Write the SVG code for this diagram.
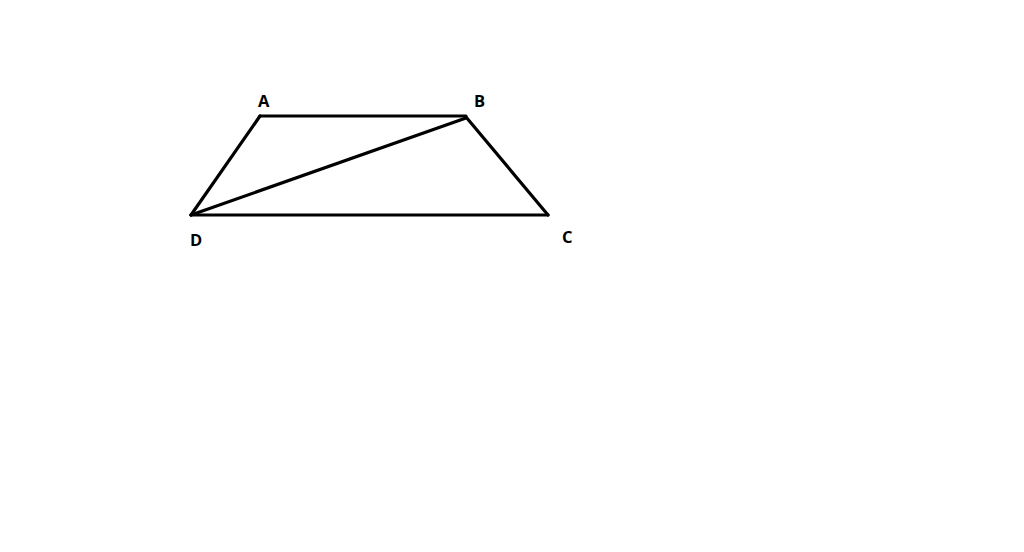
<svg xmlns="http://www.w3.org/2000/svg" width="1024" height="552" viewBox="0 0 1024 552">
<style>
.e{stroke:#000;stroke-width:3.2;fill:none;stroke-linecap:round;stroke-linejoin:round}
.l{font-family:"Open Sans","Liberation Sans",sans-serif;font-weight:bold;font-size:16.5px;fill:#000}
</style>
<rect width="1024" height="552" fill="#fff"/>
<g id="connectors">
<line class="e" x1="260" y1="116" x2="466" y2="116"/>
<line class="e" x1="466" y1="117" x2="548" y2="215"/>
<line class="e" x1="548" y1="215" x2="191" y2="215"/>
<line class="e" x1="191" y1="215" x2="260" y2="116"/>
<line class="e" x1="191" y1="215" x2="466" y2="118"/>
</g>
<g id="A"><text class="l" x="258" y="107">A</text></g>
<g id="B"><text class="l" x="474" y="107">B</text></g>
<g id="C"><text class="l" x="562" y="243">C</text></g>
<g id="D"><text class="l" x="190" y="246">D</text></g>
</svg>
